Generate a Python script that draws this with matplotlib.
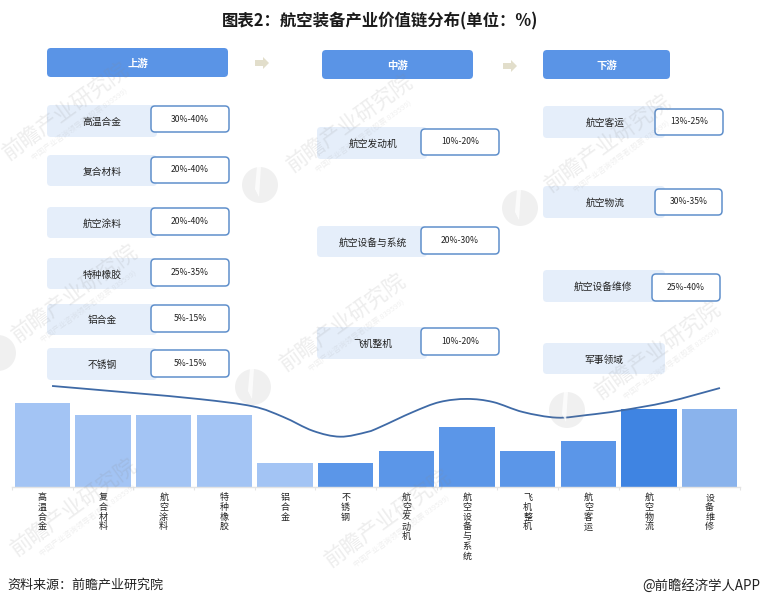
import matplotlib
matplotlib.use('Agg')
import numpy as np
import matplotlib.pyplot as plt
from matplotlib.patches import FancyBboxPatch, Circle, Polygon, PathPatch
from matplotlib.path import Path

plt.rcParams['font.family'] = ['Noto Sans CJK SC', 'DejaVu Sans']

# --- Data ---
TITLE = '图表2：航空装备产业价值链分布(单位：%)'
SOURCE = '资料来源：前瞻产业研究院'
CREDIT = '@前瞻经济学人APP'
STAGES = ['上游', '中游', '下游']

UP_NAMES = ['高温合金', '复合材料', '航空涂料', '特种橡胶', '铝合金', '不锈钢']
UP_RANGES = ['30%-40%', '20%-40%', '20%-40%', '25%-35%', '5%-15%', '5%-15%']
MID_NAMES = ['航空发动机', '航空设备与系统', '飞机整机']
MID_RANGES = ['10%-20%', '20%-30%', '10%-20%']
DOWN_NAMES = ['航空客运', '航空物流', '航空设备维修', '军事领域']
DOWN_RANGES = ['13%-25%', '30%-35%', '25%-40%', '']

BAR_LABELS = ['高温合金', '复合材料', '航空涂料', '特种橡胶', '铝合金', '不锈钢',
              '航空发动机', '航空设备与系统', '飞机整机', '航空客运', '航空物流', '设备维修']
BAR_VALUES = [35, 30, 30, 30, 10, 10, 15, 25, 15, 19, 32.5, 32.5]

# trend curve (category position, value on the bar scale)
CURVE_POS = [0.16, 1.49, 2.6, 3.47, 3.97, 4.46, 4.91, 5.35, 5.57, 6.11, 6.55, 7.0, 7.43, 7.92, 8.48, 8.98, 9.52, 10.3, 11.17]
CURVE_VAL = [42.1, 39.2, 36.6, 33.6, 29.2, 23.4, 20.96, 22.9, 25, 31.25, 35.4, 36.7, 35.4, 31.25, 28.9, 30, 31.8, 35.4, 41.25]

BAR_COLORS = ['#a3c4f4'] * 5 + ['#5b96e8'] * 5 + ['#3f84e2', '#8ab3ec']

# --- Layout (pixels of the 760x606 picture) ---
W, H = 760, 606
STAGE_BOXES = [(47, 48, 228, 77), (322, 50, 473, 79), (543, 50, 670, 79)]
ARROWS = [(262, 63), (510, 66)]
UP_ROWS = [(105, 137, 106, 132), (155, 186, 157, 183), (207, 238, 208, 235),
           (258, 289, 259, 286), (304, 335, 305, 332), (348, 380, 350, 377)]
MID_ROWS = [(127, 159, 129, 155), (226, 257, 227, 254), (327, 359, 328, 355)]
DOWN_ROWS = [(106, 138, 109, 135), (186, 218, 189, 215), (270, 302, 274, 301), (343, 374, 0, 0)]
DOWN_VAL_X = [(655, 723), (655, 722), (652, 720), (0, 0)]

WATERMARKS = [(66, 111), (350, 123), (608, 143), (75, 293), (343, 322), (658, 350),
              (74, 507), (388, 518)]
LOGOS = [(260, 185), (520, 208), (253, 387), (567, 410), (-2, 353)]

LIGHT = '#e5eefa'
BLUE = '#5a94e6'
EDGE = '#5f8fcb'
TEXT = '#222222'

fig = plt.figure(figsize=(W / 100, H / 100), dpi=100, facecolor='white')

# --- Bars ---
ax = fig.add_axes([12 / W, 1 - 487 / H, 728 / W, 107 / H])
pos = np.arange(len(BAR_VALUES))
ax.bar(pos, BAR_VALUES, width=0.915, color=BAR_COLORS, zorder=2)
ax.set_xlim(-0.5, 11.5)
ax.set_ylim(0, 107 / 2.4)
ax.patch.set_alpha(0)
for s in ['top', 'left', 'right']:
    ax.spines[s].set_visible(False)
ax.spines['bottom'].set_color('#e4e4e4')
ax.spines['bottom'].set_linewidth(1.0)
ax.set_yticks([])
ax.set_xticks(np.arange(-0.5, 12), labels=[], minor=False)
ax.tick_params(axis='x', length=2, color='#e4e4e4')
for p, name in zip(pos, BAR_LABELS):
    ax.annotate('\n'.join(name), (p, 0), xytext=(0, -4.5), textcoords='offset points',
                ha='center', va='top', fontsize=6.5, color=TEXT, linespacing=1.1)


def smooth_path(xs, ys):
    # Catmull-Rom through the read points, written as cubic beziers
    pts = np.column_stack([xs, ys])
    verts = [pts[0]]
    codes = [Path.MOVETO]
    for i in range(len(pts) - 1):
        p0 = pts[max(i - 1, 0)]
        p1 = pts[i]
        p2 = pts[i + 1]
        p3 = pts[min(i + 2, len(pts) - 1)]
        verts += [p1 + (p2 - p0) / 6, p2 - (p3 - p1) / 6, p2]
        codes += [Path.CURVE4] * 3
    return Path(verts, codes)


ax.add_patch(PathPatch(smooth_path(CURVE_POS, CURVE_VAL), fill=False, edgecolor='#3f6aa6',
                       linewidth=1.3, zorder=3, clip_on=False))

# --- Diagram on a pixel overlay ---
ov = fig.add_axes([0, 0, 1, 1], zorder=-1)
ov.set_xlim(0, W)
ov.set_ylim(H, 0)
ov.axis('off')


def rbox(x0, y0, x1, y1, face, edge='none', lw=0, r=4, z=2):
    ov.add_patch(FancyBboxPatch((x0 + r, y0 + r), x1 - x0 - 2 * r, y1 - y0 - 2 * r,
                                boxstyle=f'round,pad={r},rounding_size={r}',
                                facecolor=face, edgecolor=edge, linewidth=lw, zorder=z))


def label(x, y, s, size=7.0, color=TEXT, **kw):
    ov.text(x, y + 1, s, ha='center', va='center', fontsize=size, color=color, zorder=5, **kw)


for (x0, y0, x1, y1), stage in zip(STAGE_BOXES, STAGES):
    rbox(x0, y0, x1, y1, BLUE)
    label((x0 + x1) / 2, (y0 + y1) / 2, stage, size=7.5, color='white', fontweight='bold')

for ax_x, ax_y in ARROWS:
    ov.add_patch(Polygon([(ax_x - 7, ax_y - 3), (ax_x + 1, ax_y - 3), (ax_x + 1, ax_y - 6), (ax_x + 7, ax_y),
                          (ax_x + 1, ax_y + 6), (ax_x + 1, ax_y + 3), (ax_x - 7, ax_y + 3)],
                         facecolor='#e2decb', edgecolor='none', zorder=2))


def draw_rows(names, ranges, rows, light_x, val_xs, text_x):
    for name, rng, row, vx, tx in zip(names, ranges, rows, val_xs, text_x):
        y0, y1, vy0, vy1 = row
        rbox(light_x[0], y0, light_x[1], y1, LIGHT, r=4)
        label(tx, (y0 + y1) / 2, name)
        if rng:
            rbox(vx[0], vy0, vx[1], vy1, 'white', EDGE, 1.1, r=4, z=3)
            label((vx[0] + vx[1]) / 2, (vy0 + vy1) / 2 - 1, rng, size=6.2)


draw_rows(UP_NAMES, UP_RANGES, UP_ROWS, (47, 157), [(151, 229)] * 6, [102] * 6)
draw_rows(MID_NAMES, MID_RANGES, MID_ROWS, (317, 427), [(421, 499)] * 3, [373, 373, 373])
draw_rows(DOWN_NAMES, DOWN_RANGES, DOWN_ROWS, (543, 665), DOWN_VAL_X, [605, 605, 603, 604])

# --- Title and footer ---
ov.text(380, 21, TITLE, ha='center', va='center', fontsize=11.8, fontweight='bold', color='#1a1a1a')
ov.text(7, 585.5, SOURCE, ha='left', va='center', fontsize=9.4, color=TEXT)
ov.text(760, 585.5, CREDIT, ha='right', va='center', fontsize=9.6, color=TEXT)

# --- Watermarks ---
top = fig.add_axes([0, 0, 1, 1], zorder=5)
top.set_xlim(0, W)
top.set_ylim(H, 0)
top.axis('off')
for wx, wy in WATERMARKS:
    top.text(wx, wy, '前瞻产业研究院', rotation=36, rotation_mode='anchor', ha='center', va='center',
             fontsize=15.5, color='#8a8a8a', alpha=0.15)
    top.text(wx + 14, wy + 14, '中国产业咨询领导者(股票 839599)', rotation=36, rotation_mode='anchor',
             ha='center', va='center', fontsize=5.5, color='#8a8a8a', alpha=0.13)
for lx, ly in LOGOS:
    top.add_patch(Circle((lx, ly), 18, facecolor='#8a8a8a', alpha=0.12, edgecolor='none'))
    top.add_patch(Polygon([(lx - 3, ly - 19), (lx + 1, ly - 19), (lx - 1, ly + 12), (lx - 5, ly + 4)],
                          facecolor='white', alpha=0.8, edgecolor='none'))

fig.savefig('out.png', dpi=100)
